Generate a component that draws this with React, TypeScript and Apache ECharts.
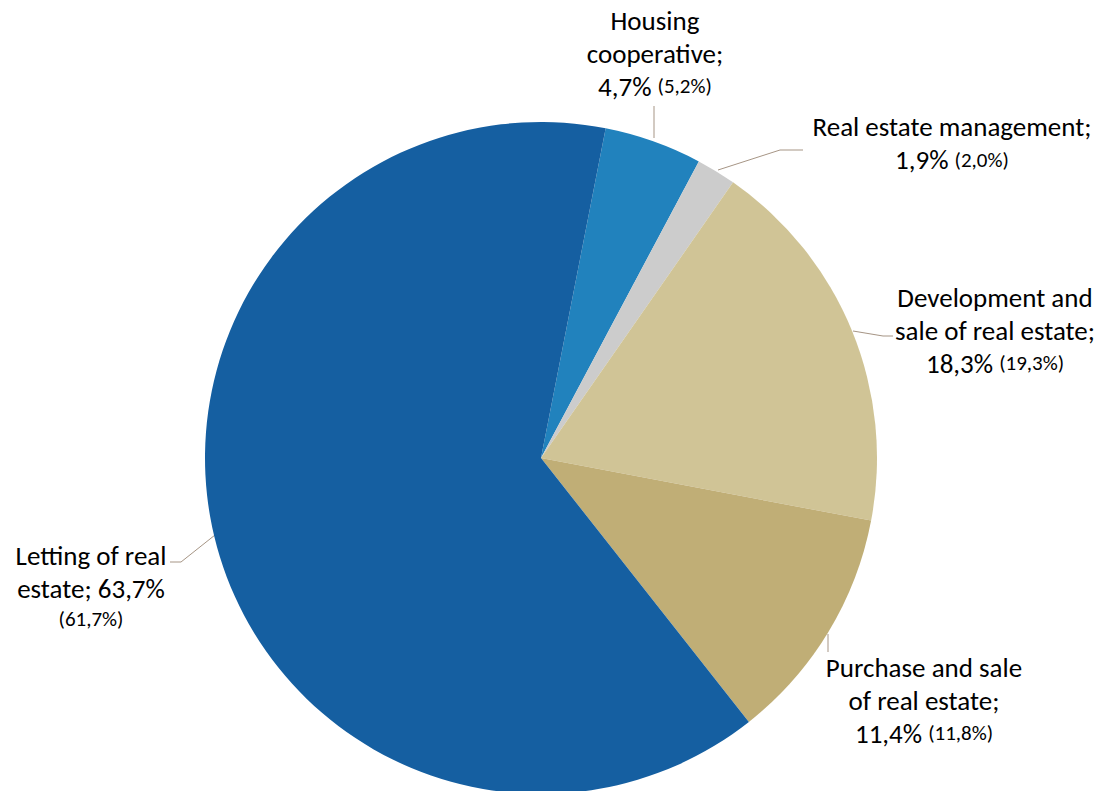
import React, { useEffect, useRef } from "react";
import * as echarts from "echarts";

const categories = [
  "Housing cooperative",
  "Real estate management",
  "Development and sale of real estate",
  "Purchase and sale of real estate",
  "Letting of real estate",
];
const shares = [4.7, 1.9, 18.3, 11.4, 63.7];
const previousShares = [5.2, 2.0, 19.3, 11.8, 61.7];
const colors = ["#2182BD", "#CCCCCC", "#D0C496", "#C0AE76", "#155FA1"];

const fmt = (v: number) => v.toFixed(1).replace(".", ",") + "%";

const labelTexts = [
  (i: number) => `{a|Housing}\n{a|cooperative;}\n{a|${fmt(shares[i])} }{b|(${fmt(previousShares[i])})}`,
  (i: number) => `{a|Real estate management;}\n{a|${fmt(shares[i])} }{b|(${fmt(previousShares[i])})}`,
  (i: number) => `{a|Development and}\n{a|sale of real estate;}\n{a|${fmt(shares[i])} }{b|(${fmt(previousShares[i])})}`,
  (i: number) => `{a|Purchase and sale}\n{a|of real estate;}\n{a|${fmt(shares[i])} }{b|(${fmt(previousShares[i])})}`,
  (i: number) => `{a|Letting of real}\n{a|estate; ${fmt(shares[i])}}\n{c|(${fmt(previousShares[i])})}`,
];

// label placement (layout only)
const labelPos = [
  { x: 655, y: 53, line: [[654, 138], [654, 120], [654, 106]] },
  { x: 952, y: 143, line: [[718, 170], [780, 150], [803, 150]] },
  { x: 995, y: 330, line: [[853, 331], [883, 336], [893, 336]] },
  { x: 924, y: 700, line: [[828, 634], [828, 643], [828, 652]] },
  { x: 91, y: 586, line: [[215, 535], [181, 562], [170, 562]] },
];

const FONT = "Carlito, Calibri, Lato, sans-serif";

export default function App() {
  const ref = useRef<HTMLDivElement>(null);
  useEffect(() => {
    document.body.style.margin = "0";
    if (!ref.current) return;
    const chart = echarts.init(ref.current, null, { renderer: "svg" });
    chart.setOption({
      animation: false,
      backgroundColor: "#ffffff",
      series: [
        {
          type: "pie",
          center: [541, 458],
          radius: [0, 336],
          startAngle: 78.9,
          clockwise: true,
          avoidLabelOverlap: false,
          minShowLabelAngle: 0,
          data: categories.map((name, i) => ({
            name,
            value: shares[i],
            itemStyle: { color: colors[i] },
            label: { formatter: labelTexts[i](i) },
          })),
          label: {
            show: true,
            position: "outside",
            color: "#000000",
            fontFamily: FONT,
            rich: {
              a: { fontSize: 27, lineHeight: 33, fontFamily: FONT, color: "#000", align: "center" },
              b: { fontSize: 21, lineHeight: 33, fontFamily: FONT, color: "#000", align: "center" },
              c: { fontSize: 21, lineHeight: 28, fontFamily: FONT, color: "#000", align: "center" },
            },
          },
          labelLine: {
            show: true,
            lineStyle: { color: "#A69585", width: 1 },
          },
          labelLayout: (params: any) => {
            const p = labelPos[params.dataIndex];
            return {
              x: p.x,
              y: p.y,
              align: "center",
              verticalAlign: "middle",
              labelLinePoints: p.line,
            };
          },
          emphasis: { disabled: true },
        },
      ],
    });
    return () => chart.dispose();
  }, []);
  return <div ref={ref} style={{ width: 1114, height: 791 }} />;
}
